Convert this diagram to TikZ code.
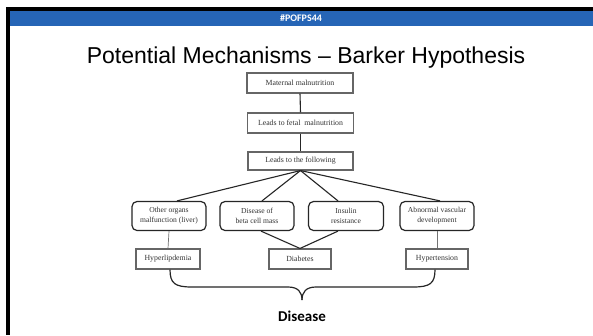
\documentclass[tikz,border=0pt]{standalone}
\usepackage{fontspec}
\setmainfont{Liberation Serif}
\newfontfamily\headfont{Liberation Sans}
\newfontfamily\calfont{Carlito}
\usetikzlibrary{calc}
\definecolor{barblue}{RGB}{38,101,182}

\begin{document}
\begin{tikzpicture}[x=1pt,y=-1pt,
  sqbox/.style={draw=black!60, line width=1.1pt, minimum height=20, inner sep=0pt,
    font=\fontsize{7.8}{9}\selectfont, text=black!80},
  rbox/.style={draw=black!85, line width=1.2pt, rounded corners=5pt, minimum width=74,
    minimum height=29, inner sep=0pt, align=center,
    font=\fontsize{7.6}{10}\selectfont, text=black!80},
  link/.style={draw=black!85, line width=1.1pt},
  thin/.style={draw=black!55, line width=0.7pt},
  brace/.style={draw=black!85, line width=1.2pt}]
% slide frame and header bar
\useasboundingbox (0,0) rectangle (593,335);
\fill[white] (0,0) rectangle (593,335);
\fill[black] (6,7) rectangle (593,11);
\fill[black] (6,7) rectangle (9.5,335);
\fill[barblue] (9.5,11) rectangle (593,26);
\node[text=white, font=\calfont\bfseries\fontsize{10}{12}\selectfont] (tag) at (301,18.5) {\#POFPS44};
\node[font=\headfont\fontsize{23}{26}\selectfont] (title) at (306,58) {Potential Mechanisms – Barker Hypothesis};

% main chain
\node[sqbox, minimum width=106] (mat) at (300,83) {Maternal malnutrition};
\node[sqbox, minimum width=106] (fetal) at (300.5,123) {Leads to fetal\ \ malnutrition};
\node[sqbox, minimum width=105, minimum height=18] (follow) at (300.5,161) {Leads to the following};

% mechanisms
\node[rbox] (organs) at (169,216) {Other organs\\malfunction (liver)};
\node[rbox] (beta) at (257,216) {Disease of\\beta cell mass};
\node[rbox, minimum width=75] (insulin) at (346,216) {Insulin\\resistance};
\node[rbox] (vascular) at (437,216) {Abnormal vascular\\development};

% outcomes
\node[sqbox, minimum width=64] (hyper) at (168,259) {Hyperlipdemia};
\node[sqbox, minimum width=62] (diab) at (300,259) {Diabetes};
\node[sqbox, minimum width=62] (htn) at (437,259) {Hypertension};

\node[font=\calfont\bfseries\fontsize{15}{18}\selectfont] (disease) at (302,316) {Disease};
\coordinate (tip) at (302,300);

% connectors
\draw[link] (mat.south) -- (fetal.north);
\draw[link] (fetal.south) -- (follow.north);
\draw[link] (follow.south) -- ($(organs.north)+(8,0)$);
\draw[link] (follow.south) -- ($(beta.north)+(5,0)$);
\draw[link] (follow.south) -- ($(insulin.north)+(-8,0)$);
\draw[link] (follow.south) -- ($(vascular.north)+(3,0)$);
\draw[thin] (organs.south) -- (hyper.north);
\draw[link] ($(beta.south)+(4,0)$) -- (diab.north);
\draw[link] ($(insulin.south)+(-8,0)$) -- (diab.north);
\draw[thin] (vascular.south) -- (htn.north);

% brace gathering the outcomes
\draw[brace] ($(hyper.south)+(2,0)$) .. controls +(0,14) and (175,287) .. (192,287)
  -- (288,287) .. controls (298,287) and (302,292) .. (tip);
\draw[brace] ($(htn.south)+(-2,0)$) .. controls +(0,14) and (430,287) .. (413,287)
  -- (316,287) .. controls (306,287) and (302,292) .. (tip);
\end{tikzpicture}
\end{document}
